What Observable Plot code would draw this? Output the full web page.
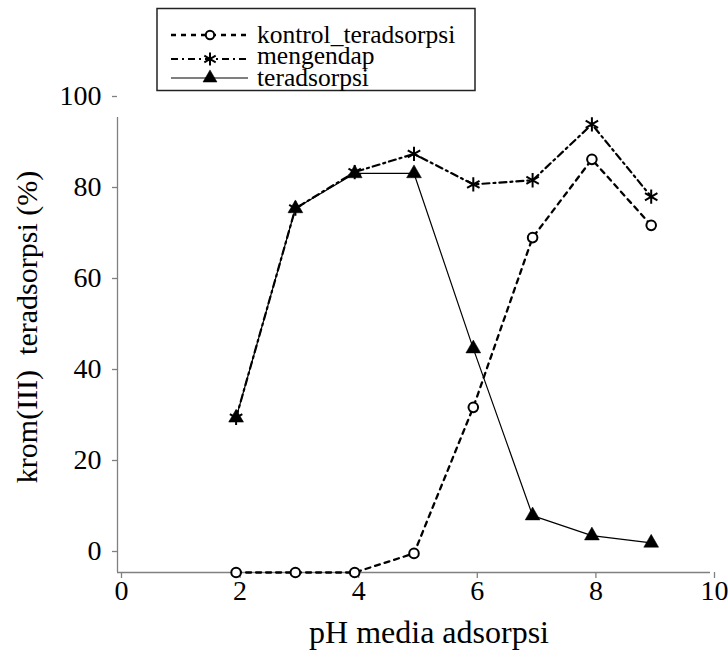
<!DOCTYPE html>
<html>
<head>
<meta charset="utf-8">
<script src="https://cdn.jsdelivr.net/npm/d3@7"></script>
<script src="https://cdn.jsdelivr.net/npm/@observablehq/plot@0.6"></script>
<style>
  html, body { margin: 0; padding: 0; background: #fff; }
  #wrap { position: relative; width: 728px; height: 655px; font-family: "Liberation Serif", "Times New Roman", serif; }
  #legend { position: absolute; left: 0; top: 0; }
</style>
</head>
<body>
<div id="wrap"></div>
<script>
// ---- data ----
const pH = [2, 3, 4, 5, 6, 7, 8, 9];
const kontrolTeradsorpsi = [0, 0, 0, 4.2, 36.3, 73.6, 90.8, 76.3];
const mengendap = [34, 80, 88, 92, 85.3, 86.2, 98.5, 82.6];
const teradsorpsi = [34, 80, 87.7, 87.7, 49.2, 12.5, 8.1, 6.5];
const seriesNames = ["kontrol_teradsorpsi", "mengendap", "teradsorpsi"];
const xTicks = [0, 2, 4, 6, 8, 10];
const yTicks = [0, 20, 40, 60, 80, 100];
const xLabel = "pH media adsorpsi";
const yLabel = "krom(III)\u00a0 teradsorpsi (%)";

const kontrolData = pH.map((x, i) => ({x, y: kontrolTeradsorpsi[i]}));
const mengendapData = pH.map((x, i) => ({x, y: mengendap[i]}));
const teradsorpsiData = pH.map((x, i) => ({x, y: teradsorpsi[i]}));

const axisGray = "#808080";
const font = "Liberation Serif";

const chart = Plot.plot({
  width: 728,
  height: 655,
  marginLeft: 117,
  marginRight: 18,
  marginTop: 117,
  marginBottom: 83,
  style: {fontFamily: font, background: "white", color: "black"},
  x: {domain: [0, 10]},
  y: {domain: [0, 100]},
  marks: [
    Plot.ruleY([0], {stroke: axisGray, strokeWidth: 1.3}),
    Plot.ruleX([0], {y1: 0, y2: 100, stroke: axisGray, strokeWidth: 1.3}),
    Plot.axisX({ticks: xTicks, tickSize: 6, tickPadding: 2, stroke: axisGray, strokeWidth: 1.3, fontSize: 28, dx: 4, label: null, tickFormat: d => String(d)}),
    Plot.axisY({ticks: yTicks, tickSize: 5, tickPadding: 11, stroke: axisGray, strokeWidth: 1.3, fontSize: 28, dy: -21, label: null, tickFormat: d => String(d)}),
    // lines
    Plot.line(teradsorpsiData, {x: "x", y: "y", stroke: "black", strokeWidth: 1.2}),
    Plot.line(mengendapData, {x: "x", y: "y", stroke: "black", strokeWidth: 2.2, strokeDasharray: "7,4,2,4"}),
    Plot.line(kontrolData, {x: "x", y: "y", stroke: "black", strokeWidth: 2.3, strokeDasharray: "5,5"}),
    // markers
    Plot.dot(teradsorpsiData, {x: "x", y: "y", symbol: "triangle", r: 5.5, fill: "black", stroke: "black", strokeWidth: 0.5}),
    Plot.dot(mengendapData, {x: "x", y: "y", symbol: "asterisk", r: 6.8, stroke: "black", strokeWidth: 2}),
    Plot.dot(kontrolData, {x: "x", y: "y", symbol: "circle", r: 4.8, fill: "white", stroke: "black", strokeWidth: 2}),
    // axis titles
    Plot.text([xLabel], {frameAnchor: "bottom", text: d => d, fontSize: 32, textAnchor: "middle", lineAnchor: "bottom", dx: 15, dy: 70, fill: "black"}),
    Plot.text([yLabel], {frameAnchor: "left", text: d => d, fontSize: 30, rotate: -90, textAnchor: "middle", lineAnchor: "middle", dx: -90, dy: -18, fill: "black"})
  ]
});
document.getElementById("wrap").appendChild(chart);

// ---- legend (drawn over the chart, top) ----
const legendRows = [
  {name: seriesNames[0], dash: "5,5", width: 2.3, symbol: d3.symbolCircle, fill: "white", sw: 2, r: 4.2, lineY: 35, baseY: 43},
  {name: seriesNames[1], dash: "7,4,2,4", width: 2.2, symbol: d3.symbolAsterisk, fill: "none", sw: 2, r: 6.2, lineY: 59, baseY: 64},
  {name: seriesNames[2], dash: null, width: 1.2, symbol: d3.symbolTriangle, fill: "black", sw: 0.5, r: 5.2, lineY: 78, baseY: 86}
];
const svg = d3.select("#wrap").append("svg")
  .attr("id", "legend").attr("width", 728).attr("height", 100)
  .style("font-family", "'Liberation Serif', serif");
svg.append("rect").attr("x", 157).attr("y", 8.5).attr("width", 318).attr("height", 82)
  .attr("fill", "white").attr("stroke", "#222").attr("stroke-width", 1.5);
for (const row of legendRows) {
  svg.append("line").attr("x1", 171).attr("x2", 248).attr("y1", row.lineY).attr("y2", row.lineY)
    .attr("stroke", "black").attr("stroke-width", row.width)
    .attr("stroke-dasharray", row.dash);
  svg.append("path").attr("transform", `translate(210,${row.lineY})`)
    .attr("d", d3.symbol(row.symbol, Math.PI * row.r * row.r)())
    .attr("fill", row.fill).attr("stroke", "black").attr("stroke-width", row.sw);
  svg.append("text").attr("x", 257).attr("y", row.baseY).attr("font-size", 25.5).attr("fill", "black").text(row.name);
}
</script>
</body>
</html>
